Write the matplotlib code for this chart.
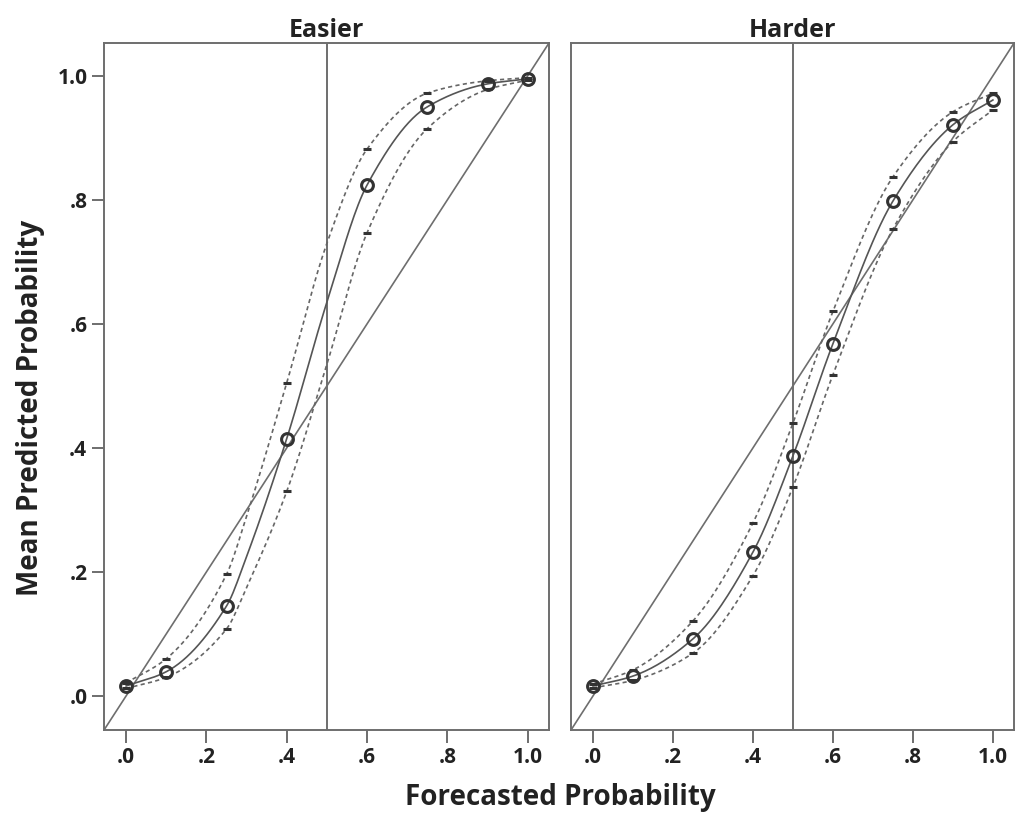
import numpy as np
import matplotlib
matplotlib.use("Agg")
import matplotlib.pyplot as plt

plt.rcParams['font.family'] = ['Open Sans', 'DejaVu Sans']

# values
x_easier = [0.0, 0.1, 0.25, 0.3, 0.4, 0.5, 0.6, 0.75, 0.9, 1.0]
mean_easier = [0.016, 0.039, 0.145, 0.225, 0.415, 0.635, 0.824, 0.950, 0.987, 0.995]
upper_easier = [0.021, 0.060, 0.196, 0.290, 0.505, 0.730, 0.882, 0.972, 0.992, 0.997]
lower_easier = [0.012, 0.030, 0.108, 0.175, 0.330, 0.535, 0.747, 0.915, 0.978, 0.993]
shown_easier = [True, True, True, False, True, False, True, True, True, True]

x_harder = [0.0, 0.1, 0.25, 0.4, 0.5, 0.6, 0.75, 0.9, 1.0]
mean_harder = [0.016, 0.032, 0.092, 0.232, 0.387, 0.568, 0.798, 0.921, 0.961]
upper_harder = [0.019, 0.042, 0.121, 0.279, 0.440, 0.620, 0.837, 0.942, 0.972]
lower_harder = [0.013, 0.025, 0.069, 0.194, 0.337, 0.518, 0.753, 0.894, 0.945]
shown_harder = [True] * 9

panels = [
    ("Easier", x_easier, mean_easier, upper_easier, lower_easier, shown_easier),
    ("Harder", x_harder, mean_harder, upper_harder, lower_harder, shown_harder),
]

ticks = [0.0, 0.2, 0.4, 0.6, 0.8, 1.0]
tick_labels = [".0", ".2", ".4", ".6", ".8", "1.0"]
lims = (-0.055, 1.053)


def smooth(x, y, n=200):
    # monotone cubic hermite curve through the read points (drawing only)
    x = np.asarray(x, float)
    y = np.asarray(y, float)
    h = np.diff(x)
    d = np.diff(y) / h
    m = np.zeros_like(y)
    m[0], m[-1] = d[0], d[-1]
    for i in range(1, len(x) - 1):
        if d[i - 1] * d[i] > 0:
            w1 = 2 * h[i] + h[i - 1]
            w2 = h[i] + 2 * h[i - 1]
            m[i] = (w1 + w2) / (w1 / d[i - 1] + w2 / d[i])
    xs = np.linspace(x[0], x[-1], n)
    k = np.clip(np.searchsorted(x, xs) - 1, 0, len(x) - 2)
    t = (xs - x[k]) / h[k]
    h00 = 2 * t**3 - 3 * t**2 + 1
    h10 = t**3 - 2 * t**2 + t
    h01 = -2 * t**3 + 3 * t**2
    h11 = t**3 - t**2
    ys = h00 * y[k] + h10 * h[k] * m[k] + h01 * y[k + 1] + h11 * h[k] * m[k + 1]
    return xs, ys


fig = plt.figure(figsize=(10.15, 8.15), dpi=100)
ax1 = fig.add_axes([0.1025, 0.1043, 0.4384, 0.843])
ax2 = fig.add_axes([0.5626, 0.1043, 0.4365, 0.843])

frame = "#6e6e6e"
for ax, (title, x, mean, upper, lower, shown) in zip([ax1, ax2], panels):
    ax.set_xlim(lims)
    ax.set_ylim(lims)
    ax.plot(lims, lims, color=frame, lw=1.2, zorder=1)
    ax.axvline(0.5, color=frame, lw=1.4, zorder=1)

    xs, ys = smooth(x, mean)
    ax.plot(xs, ys, color="#555555", lw=1.2, zorder=2)
    for band in (upper, lower):
        xs, ys = smooth(x, band)
        ax.plot(xs, ys, color="#666666", lw=1.2, ls=(0, (2.5, 2)), zorder=2)

    px = [v for v, s in zip(x, shown) if s]
    ax.plot(px, [v for v, s in zip(mean, shown) if s], "o", ms=8.5, mfc="none",
            mec="#333333", mew=2.2, zorder=3)
    ax.plot(px, [v for v, s in zip(upper, shown) if s], "_", ms=6,
            color="#333333", mew=2.2, zorder=3)
    ax.plot(px, [v for v, s in zip(lower, shown) if s], "_", ms=6,
            color="#333333", mew=2.2, zorder=3)

    ax.set_title(title, fontsize=18, fontweight="bold", color="#222222", pad=3)
    ax.set_xticks(ticks)
    ax.set_xticklabels(tick_labels, fontsize=15, fontweight="bold")
    for sp in ax.spines.values():
        sp.set_color(frame)
        sp.set_linewidth(1.4)
    ax.tick_params(direction="out", length=9, width=1.4, color=frame,
                   labelcolor="#222222", pad=3)

ax1.set_yticks(ticks)
ax1.set_yticklabels(tick_labels, fontsize=15, fontweight="bold")
ax2.set_yticks([])

fig.text(0.030, 0.5, "Mean Predicted Probability", rotation=90, ha="center",
         va="center", fontsize=20, fontweight="bold", color="#222222")
fig.text(0.552, 0.022, "Forecasted Probability", ha="center", va="center",
         fontsize=20, fontweight="bold", color="#222222")

fig.savefig("out.png", dpi=100)
